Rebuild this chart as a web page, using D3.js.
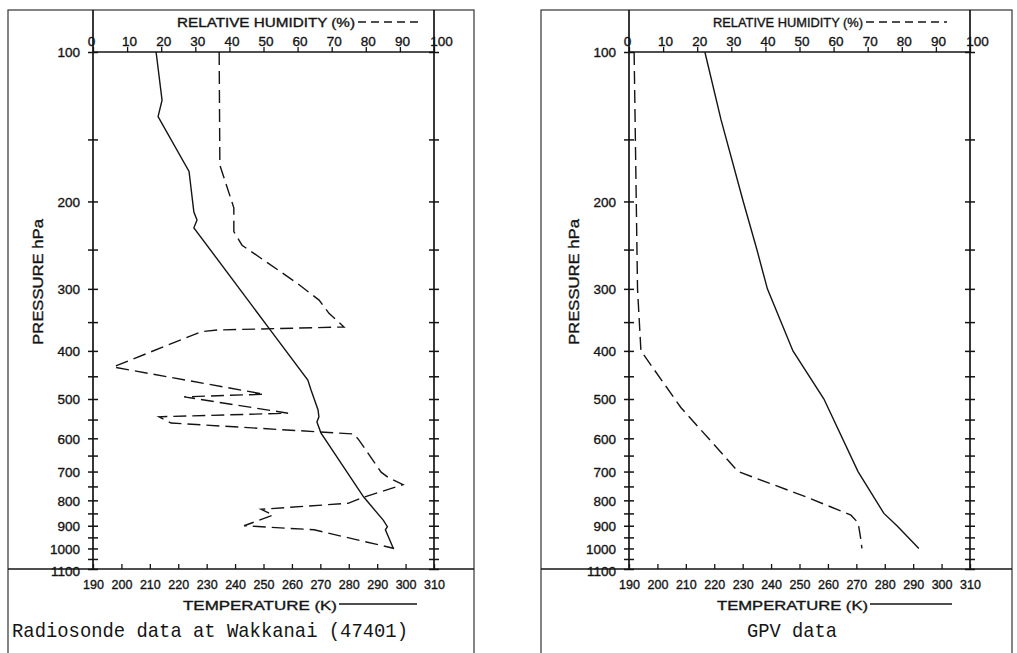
<!DOCTYPE html>
<html><head><meta charset="utf-8">
<script src="https://cdn.jsdelivr.net/npm/d3@7"></script>
<style>body{margin:0;background:#fff} svg{display:block}</style>
</head><body><svg id="c" width="1017" height="653"></svg>
<script>
// ---- data ----
const pressureTicks = [100,150,200,250,300,350,400,450,500,550,600,650,700,750,800,850,900,950,1000,1050,1100];
const pressureLabels = [100,200,300,400,500,600,700,800,900,1000,1100];
const tempTicks = [190,200,210,220,230,240,250,260,270,280,290,300,310];
const rhTicks = [0,10,20,30,40,50,60,70,80,90,100];

const sondeTempP = [100,125,135,174,210,218,226,360,458,479,526,543,556,585,787,878,904,917,1000];
const sondeTemp  = [212.2,214.3,212.9,223.8,225.5,226.6,225.5,251.9,265.6,266.7,269.2,269.5,268.8,270.2,285.2,292.2,293.6,292.9,295.7];
const sondeRHP = [100,169,206,230,245,292,316,336,358,363,366,431,489,495,534,543,559,588,605,702,719,744,788,811,834,857,900,917,1000];
const sondeRH  = [37,37.2,41.3,41.3,43.7,59.8,66.3,69.2,73.6,36.7,31.7,5.9,50.1,26.7,57.2,19.4,22.9,76.5,78,84.5,86.5,90.9,79.5,74.8,49.3,52.8,44.3,64.8,88.3];

const gpvTempP = [100,137,200,250,300,400,500,700,850,900,1000];
const gpvTemp  = [216.7,222.4,230.2,235,238.7,247.7,258.6,270.6,279.7,284.3,292];
const gpvRHP = [100,300,400,520,700,790,857,888,960,1000];
const gpvRH  = [1.5,2.5,3.5,15.2,32,52.5,65.1,67.2,68,68.3];

// ---- layout ----
const svg = d3.select("#c");
const INK = "#141414";
const yTop = 52, yBot = 569, frameTop = 10;
const y = d3.scaleLog().domain([100,1100]).range([yTop,yBot]);

const panels = [
  {fx0:8, fx1:474, px0:93, px1:434, title:"Radiosonde data at Wakkanai (47401)", titleX:12, titleW:396,
   rhText:[177,178], rhDash:[358,420], tText:[183,154], tLine:[339,417],
   tp:sondeTempP, tv:sondeTemp, rp:sondeRHP, rv:sondeRH},
  {fx0:541, fx1:1012, px0:629, px1:970, title:"GPV data", titleX:747, titleW:90,
   rhText:[713,150], rhDash:[866,947], tText:[717,151], tLine:[870,952],
   tp:gpvTempP, tv:gpvTemp, rp:gpvRHP, rv:gpvRH}
];

const font = "'Liberation Sans', Arial, sans-serif";
const heavy = sel => sel.attr("stroke",INK).attr("stroke-width",0.35);

panels.forEach(P => {
  const g = svg.append("g");
  const xT = d3.scaleLinear().domain([190,310]).range([P.px0,P.px1]);
  const xR = d3.scaleLinear().domain([0,100]).range([P.px0,P.px1]);

  // outer frame
  g.append("rect").attr("x",P.fx0).attr("y",frameTop).attr("width",P.fx1-P.fx0).attr("height",700)
    .attr("fill","none").attr("stroke","#333").attr("stroke-width",1.2);
  g.append("line").attr("x1",P.fx0).attr("x2",P.fx1).attr("y1",yBot).attr("y2",yBot)
    .attr("stroke",INK).attr("stroke-width",1.6);
  // plot verticals and top line
  [P.px0,P.px1].forEach(x => g.append("line").attr("x1",x).attr("x2",x).attr("y1",frameTop).attr("y2",yBot)
    .attr("stroke",INK).attr("stroke-width",1.7));
  g.append("line").attr("x1",P.px0).attr("x2",P.px1).attr("y1",yTop).attr("y2",yTop)
    .attr("stroke",INK).attr("stroke-width",1.7);

  // left pressure axis with labels
  const axL = g.append("g").attr("transform",`translate(${P.px0},0)`)
    .call(d3.axisLeft(y).tickValues(pressureTicks).tickSize(5).tickSizeOuter(0)
      .tickFormat(d => pressureLabels.includes(d) ? d : ""));
  axL.select(".domain").remove();
  axL.selectAll(".tick line").attr("x1",5).attr("x2",-5).attr("stroke",INK).attr("stroke-width",1.5);
  axL.selectAll(".tick text").attr("x",-13).attr("font-family",font).attr("font-size",13.5).attr("fill",INK)
    .attr("dy", d => d===1100 ? "0.45em" : "0.35em").call(heavy);
  // right pressure axis ticks only
  const axR = g.append("g").attr("transform",`translate(${P.px1},0)`)
    .call(d3.axisRight(y).tickValues(pressureTicks).tickSize(5).tickSizeOuter(0).tickFormat(""));
  axR.select(".domain").remove();
  axR.selectAll(".tick line").attr("x1",-5).attr("x2",5).attr("stroke",INK).attr("stroke-width",1.5);

  // bottom temperature axis (ticks up, labels below)
  const axB = g.append("g").attr("transform",`translate(0,${yBot})`)
    .call(d3.axisBottom(xT).tickValues(tempTicks).tickSize(-5).tickSizeOuter(0).tickPadding(11).tickFormat(d3.format("d")));
  axB.select(".domain").remove();
  axB.selectAll(".tick line").attr("stroke",INK).attr("stroke-width",1.3);
  axB.selectAll(".tick text").attr("font-family",font).attr("font-size",12.5).attr("fill",INK).call(heavy);

  // top RH axis
  const axT = g.append("g").attr("transform",`translate(0,${yTop})`)
    .call(d3.axisTop(xR).tickValues(rhTicks).tickSize(5).tickSizeOuter(0).tickPadding(1).tickFormat(d3.format("d")));
  axT.select(".domain").remove();
  axT.selectAll(".tick line").attr("stroke",INK).attr("stroke-width",1.3);
  axT.selectAll(".tick text").attr("font-family",font).attr("font-size",13.5).attr("fill",INK)
    .attr("dx", d => d===0 ? -2 : (d===100 ? 7 : 2)).call(heavy);

  // axis titles
  g.append("text").attr("x",P.rhText[0]).attr("y",27).attr("textLength",P.rhText[1]).attr("lengthAdjust","spacingAndGlyphs")
    .attr("font-family",font).attr("font-size",12.5).attr("fill",INK).call(heavy).text("RELATIVE HUMIDITY (%)");
  g.append("line").attr("x1",P.rhDash[0]).attr("x2",P.rhDash[1]).attr("y1",22).attr("y2",22)
    .attr("stroke",INK).attr("stroke-width",1.5).attr("stroke-dasharray","8,5");
  g.append("text").attr("x",P.tText[0]).attr("y",610).attr("textLength",P.tText[1]).attr("lengthAdjust","spacingAndGlyphs")
    .attr("font-family",font).attr("font-size",13).attr("fill",INK).call(heavy).text("TEMPERATURE  (K)");
  g.append("line").attr("x1",P.tLine[0]).attr("x2",P.tLine[1]).attr("y1",604).attr("y2",604)
    .attr("stroke",INK).attr("stroke-width",1.5);
  g.append("text").attr("transform",`translate(${P.px0-50},${282}) rotate(-90)`).attr("text-anchor","middle")
    .attr("textLength",126).attr("lengthAdjust","spacingAndGlyphs")
    .attr("font-family",font).attr("font-size",14).attr("fill",INK).call(heavy).text("PRESSURE  hPa");
  g.append("text").attr("x",P.titleX).attr("y",637).attr("textLength",P.titleW).attr("lengthAdjust","spacingAndGlyphs")
    .attr("font-family","'Liberation Mono', 'DejaVu Sans Mono', monospace").attr("font-size",21).attr("fill",INK).text(P.title);

  // data lines
  const tData = P.tp.map((p,i) => [P.tv[i], p]);
  const rData = P.rp.map((p,i) => [P.rv[i], p]);
  g.append("path").datum(tData)
    .attr("d", d3.line().x(d => xT(d[0])).y(d => y(d[1])))
    .attr("fill","none").attr("stroke",INK).attr("stroke-width",1.4);
  g.append("path").datum(rData)
    .attr("d", d3.line().x(d => xR(d[0])).y(d => y(d[1])))
    .attr("fill","none").attr("stroke",INK).attr("stroke-width",1.4).attr("stroke-dasharray","13,6");
});
</script></body></html>
